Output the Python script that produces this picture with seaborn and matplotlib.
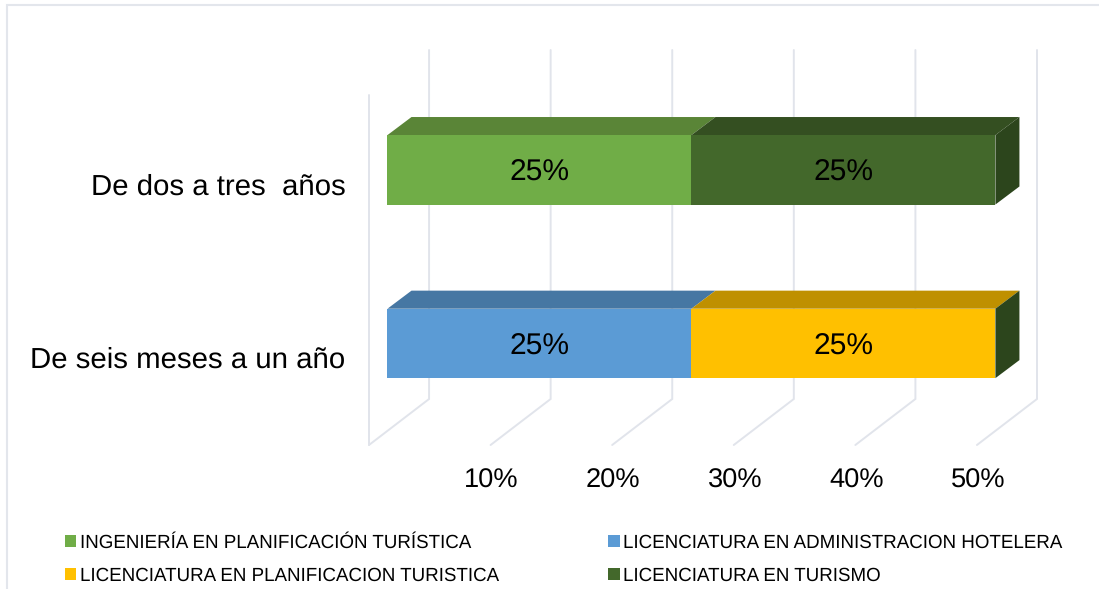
import matplotlib
matplotlib.use("Agg")
import matplotlib.pyplot as plt
from matplotlib.lines import Line2D
from matplotlib.patches import Patch
from matplotlib.transforms import ScaledTranslation
import seaborn as sns

categories = ["De dos a tres  años", "De seis meses a un año"]
series_names = ["INGENIERÍA EN PLANIFICACIÓN TURÍSTICA",
                "LICENCIATURA EN ADMINISTRACION HOTELERA",
                "LICENCIATURA EN PLANIFICACION TURISTICA",
                "LICENCIATURA EN TURISMO"]
ingenieria = [25, 0]
administracion = [0, 25]
planificacion = [0, 25]
turismo = [25, 0]
x_ticks = [10, 20, 30, 40, 50]

front_colors = ["#70AD47", "#5B9BD5", "#FFC000", "#43682B"]
top_colors = ["#5A8537", "#4677A3", "#BF9000", "#344F21"]
side_color = "#2C451C"
grid_color = "#E1E4EB"

W, H = 1099, 589
sns.set_theme(style="white")
plt.rcParams["font.family"] = ["Liberation Sans", "DejaVu Sans"]
plt.rcParams["text.hinting"] = "none"

fig = plt.figure(figsize=(W / 100, H / 100), dpi=100, facecolor="white")
ax = fig.add_axes([369 / W, (H - 445) / H, 668 / W, 395 / H])
ax.patch.set_alpha(0)

# pseudo-3D geometry, in data units
bar_h = 0.40
dx_bar, dy_bar = 1.975, -0.104
back_x, front_x = 3.42, -1.52
top_y, back_floor, front_floor, wall_top = -0.69, 1.32, 1.585, -0.432

for p in [0] + x_ticks:
    ax.plot([p + back_x, p + back_x, p + front_x], [top_y, back_floor, front_floor],
            color=grid_color, lw=1.4, zorder=1, clip_on=False, solid_joinstyle="miter")
ax.plot([front_x, front_x], [wall_top, front_floor], color=grid_color, lw=1.4, zorder=1, clip_on=False)

all_values = [ingenieria, administracion, planificacion, turismo]
left = [0, 0]
for name, vals, fc, tc in zip(series_names, all_values, front_colors, top_colors):
    sns.barplot(x=vals, y=categories, order=categories, orient="y", color=fc,
                saturation=1, width=bar_h, left=list(left), linewidth=0, ax=ax, zorder=3)
    cont = ax.containers[-1]
    anns = ax.bar_label(cont, labels=[f"{v}%" if v else "" for v in vals], label_type="center",
                        fontsize=21.6, color="black", zorder=6)
    for ann in anns:
        ann.xyann = (0, -2.6)
    for patch, v in zip(cont.patches, vals):
        if not v:
            continue
        x0, y0, w = patch.get_x(), patch.get_y(), patch.get_width()
        ax.fill([x0, x0 + w, x0 + w + dx_bar, x0 + dx_bar],
                [y0, y0, y0 + dy_bar, y0 + dy_bar], color=tc, lw=0, zorder=2.5)
    left = [a + b for a, b in zip(left, vals)]

# right-hand side face of each stack
for yi, total in enumerate(left):
    y0 = yi - bar_h / 2
    ax.fill([total, total + dx_bar, total + dx_bar, total],
            [y0, y0 + dy_bar, y0 + bar_h + dy_bar, y0 + bar_h], color=side_color, lw=0, zorder=2.6)

ax.set_xlim(front_x, 50 + back_x)
ax.set_ylim(front_floor, top_y)
ax.set_xticks(x_ticks, [f"{t}%" for t in x_ticks])
ax.set_ylabel("")
ax.set_xlabel("")
ax.grid(False)
sns.despine(ax=ax, left=True, bottom=True)
ax.tick_params(axis="both", length=0, colors="black")
ax.tick_params(axis="x", labelsize=19.6, pad=16.5)
ax.tick_params(axis="y", labelsize=21.2, pad=17)

shift_x = ScaledTranslation(-17.5 / 100, 0, fig.dpi_scale_trans)
for lab in ax.get_xticklabels():
    lab.set_transform(lab.get_transform() + shift_x)
shift_y = ScaledTranslation(0, -14 / 100, fig.dpi_scale_trans)
for lab in ax.get_yticklabels():
    lab.set_transform(lab.get_transform() + shift_y)

order = [0, 2, 1, 3]
handles = [Patch(facecolor=front_colors[i], edgecolor="none", label=series_names[i]) for i in order]
fig.legend(handles=handles, ncol=2, loc="upper left",
           bbox_to_anchor=(64.5 / W, 1 - 534 / H), bbox_transform=fig.transFigure,
           frameon=False, fontsize=13.5, borderpad=0, borderaxespad=0,
           handlelength=0.6, handleheight=0.6, handletextpad=0.2,
           labelspacing=0.8, columnspacing=5.85, labelcolor="black")

fig.add_artist(Line2D([7 / W, 7 / W, 1], [0, 1 - 5 / H, 1 - 5 / H], color="#E3E6EC", lw=1.5,
                      transform=fig.transFigure, solid_joinstyle="miter"))

fig.savefig("out.png", dpi=100, facecolor="white")
